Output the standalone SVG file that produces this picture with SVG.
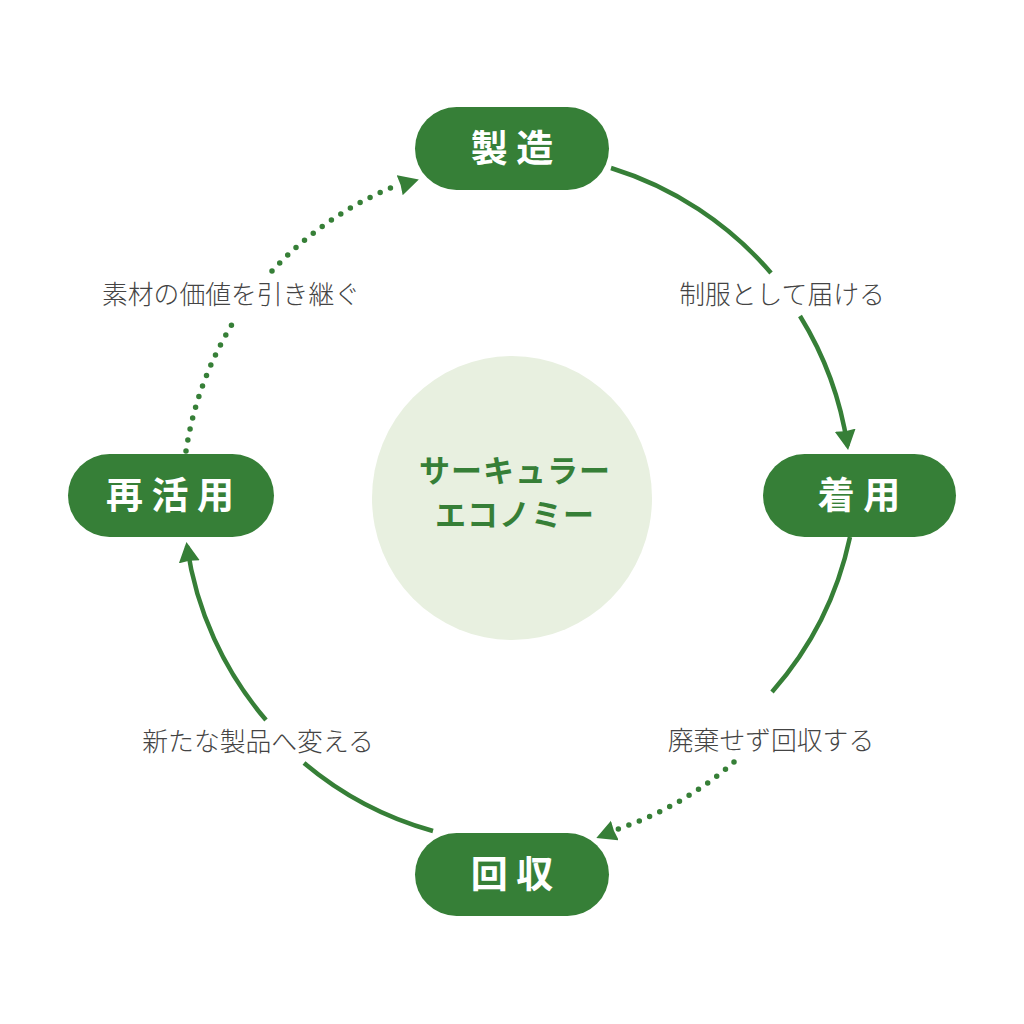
<svg xmlns="http://www.w3.org/2000/svg" width="1024" height="1024" viewBox="0 0 1024 1024">
<defs>
<marker id="arr" markerUnits="userSpaceOnUse" markerWidth="26" markerHeight="26" refX="16" refY="10.500" orient="auto"><path d="M0 0L20 10.500L0 21L1 10.500Z" fill="#367f37"/></marker>
</defs>
<style>
.pill{fill:#367f37}
.nt{font-family:"Noto Sans CJK JP","Noto Sans",sans-serif;font-weight:700;font-size:37px;fill:#fff;text-anchor:middle}
.lb{font-family:"Noto Sans CJK JP","Noto Sans",sans-serif;font-weight:300;font-size:25.800px;fill:#444;text-anchor:middle}
.ct{font-family:"Noto Sans CJK JP","Noto Sans",sans-serif;font-weight:700;font-size:31px;fill:#367f37;text-anchor:middle;letter-spacing:1px}
.s{fill:none;stroke:#367f37;stroke-width:4.500}
.d{fill:none;stroke:#367f37;stroke-width:5.500;stroke-linecap:round;stroke-dasharray:0 11.200}
</style>
<rect width="1024" height="1024" fill="#fff"/>
<g id="connectors">
<path class="s" d="M611 168A344 344 0 0 1 771 273"/>
<path class="s" d="M800 316A342 342 0 0 1 847.500 446" marker-end="url(#arr)"/>
<path class="s" d="M850 537A342 342 0 0 1 772 692"/>
<path class="d" d="M734 762A342 342 0 0 1 618 829"/>
<path class="s" d="M601 836L600 836.400" marker-end="url(#arr)" style="stroke-width:1"/>
<path class="s" d="M433 831A342 342 0 0 1 304 763"/>
<path class="s" d="M266 720A342 342 0 0 1 187 546" marker-end="url(#arr)"/>
<path class="d" d="M186 451A342 342 0 0 1 236 318"/>
<path class="d" d="M272 271A342 342 0 0 1 398 185"/>
<path class="s" d="M414 181L415 180.700" marker-end="url(#arr)" style="stroke-width:1"/>
</g>
<g id="center"><ellipse cx="512" cy="498" rx="140" ry="142" fill="#e8f0e0"/>
<text class="ct" x="515" y="482">サーキュラー</text><text class="ct" x="515" y="526">エコノミー</text></g>
<g id="node-seizo"><rect class="pill" x="415" y="107" width="194" height="83" rx="41.500"/><text class="nt" x="512" y="162" xml:space="preserve">製 造</text></g>
<g id="node-chakuyo"><rect class="pill" x="763" y="454" width="193" height="83" rx="41.500"/><text class="nt" x="859" y="509" xml:space="preserve">着 用</text></g>
<g id="node-kaishu"><rect class="pill" x="415" y="833" width="194" height="83" rx="41.500"/><text class="nt" x="512" y="888" xml:space="preserve">回 収</text></g>
<g id="node-saikatsuyo"><rect class="pill" x="68" y="454" width="206" height="83" rx="41.500"/><text class="nt" x="170" y="509" xml:space="preserve">再 活 用</text></g>
<g id="labels">
<text class="lb" x="782" y="304">制服として届ける</text>
<text class="lb" x="771" y="750">廃棄せず回収する</text>
<text class="lb" x="258" y="751">新たな製品へ変える</text>
<text class="lb" x="231" y="304">素材の価値を引き継ぐ</text>
</g>
</svg>
